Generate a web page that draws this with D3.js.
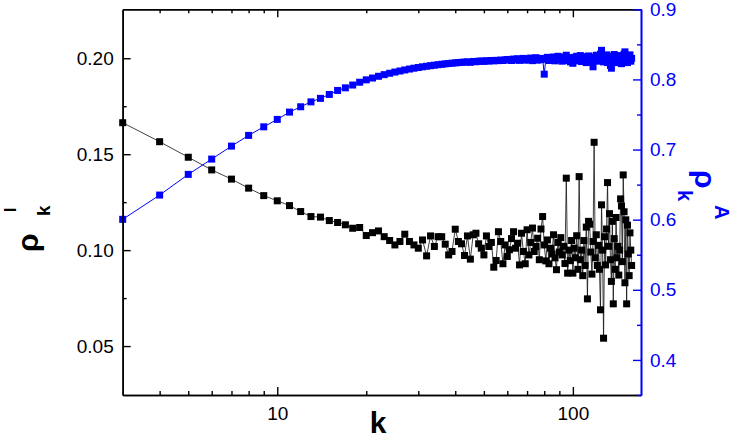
<!DOCTYPE html>
<html><head><meta charset="utf-8">
<script src="https://cdn.jsdelivr.net/npm/d3@7"></script>
<style>body{margin:0;background:#fff}svg{display:block}text{font-family:"Liberation Sans",Arial,sans-serif}</style>
</head><body><svg id="c" width="733" height="442"></svg>
<script>
const kFirst = 3;
const rhoI = [0.1664,0.1565,0.1484,0.1418,0.1370,0.1323,0.1284,0.1257,0.1232,0.1201,0.1175,0.1172,0.1154,0.1144,0.1132,0.1114,0.1118,0.1076,
0.1091,0.1100,0.1070,0.1050,0.1027,0.1045,0.1083,0.1045,0.1027,0.1010,0.1053,0.0970,0.1074,0.1019,0.1070,0.1070,0.1031,0.0975,0.0993,0.1109,0.1045,0.1033,0.0972,0.1074,0.0953,0.1080,0.1088,0.1033,0.1010,0.0975,0.1074,0.1019,
0.1040,0.0911,0.0946,0.1096,0.1045,0.0929,0.1027,0.0967,0.1002,0.1060,0.1096,0.1010,0.1036,0.0923,0.1088,0.0993,0.0929,0.1106,0.0975,0.1040,0.1115,0.0993,0.1019,0.1062,0.0950,0.1110,0.1175,0.1027,0.0944,0.1053,0.0929,0.1010,0.0980,0.1080,0.0960,0.0898,0.1040,0.0990,
0.1065,0.0975,0.1020,0.0930,0.1375,0.0880,0.1000,0.0945,0.1050,0.0880,0.1010,0.0960,0.1075,0.0900,0.1383,0.0950,0.1000,0.0867,0.1050,0.0920,0.1120,0.0746,0.1150,0.1135,0.0990,0.0875,0.1045,0.1562,0.0960,0.1080,0.0920,0.1025,0.0900,0.0689,0.1236,0.1000,0.0541,0.1070,0.0923,0.1110,0.1352,0.1020,0.1190,0.0950,0.0837,0.1150,0.0720,0.1060,0.0900,0.1170,0.0960,0.1020,0.0870,0.1000,0.1267,0.1230,0.0940,0.1392,0.1200,0.0830,0.1158,0.0720,0.1130,0.0980,0.0867,0.1090,0.1000,0.0920];
const rhoA = [0.6005,0.6351,0.6646,0.6864,0.7049,0.7202,0.7324,0.7430,0.7534,0.7610,0.7680,0.7730,0.7786,0.7843,0.7880,0.7920,0.7960,0.7994,
0.8020,0.8045,0.8068,0.8088,0.8105,0.8120,0.8135,0.8148,0.8160,0.8170,0.8180,0.8188,0.8196,0.8203,0.8210,0.8216,0.8222,0.8227,0.8232,0.8236,0.8240,0.8244,0.8247,0.8250,0.8244,0.8256,0.8252,0.8260,0.8262,0.8258,0.8266,0.8262,0.8270,0.8265,0.8272,0.8268,0.8276,0.8270,0.8278,0.8282,
0.8285,0.8270,0.8290,0.8278,0.8295,0.8272,0.8288,0.8300,0.8275,0.8292,0.8280,0.8305,0.8268,0.8290,0.8310,0.8275,0.8295,0.8282,0.8300,0.8075,0.8290,0.8315,0.8270,0.8300,0.8285,0.8320,0.8265,0.8295,0.8330,0.8280,
0.8305,0.8260,0.8320,0.8290,0.8345,0.8270,0.8310,0.8250,0.8300,0.8230,0.8315,0.8285,0.8330,0.8265,0.8300,0.8340,0.8255,0.8310,0.8280,0.8325,0.8240,0.8300,0.8335,0.8270,0.8295,0.8250,0.8180,0.8320,0.8290,0.8345,0.8260,0.8310,0.8280,0.8360,0.8415,0.8300,0.8250,0.8330,0.8275,0.8350,0.8240,0.8310,0.8285,0.8200,0.8160,0.8330,0.8270,0.8355,0.8290,0.8240,0.8320,0.8275,0.8340,0.8260,0.8300,0.8225,0.8330,0.8280,0.8360,0.8393,0.8270,0.8310,0.8240,0.8330,0.8290,0.8350,0.8260,0.8300];
const xMajor = [10, 100];
const xMinor = [4,5,6,7,8,9,20,30,40,50,60,70,80,90];
const yLMajor = [0.05, 0.10, 0.15, 0.20];
const yLMinor = [0.075, 0.125, 0.175];
const yRMajor = [0.4, 0.5, 0.6, 0.7, 0.8, 0.9];
const yRMinor = [0.35, 0.45, 0.55, 0.65, 0.75, 0.85];

const BLUE = "#0000ff";
const L = 122.7, R = 641, T = 9.3, B = 395;
const svg = d3.select("#c");
const x = d3.scaleLog().domain([3, 170]).range([L, R]);
const yL = d3.scaleLinear().domain([0.0245, 0.2255]).range([B, T]);
const yR = d3.scaleLinear().domain([0.35, 0.9]).range([B, T]);

const dI = rhoI.map((v, i) => ({k: kFirst + i, v}));
const dA = rhoA.map((v, i) => ({k: kFirst + i, v}));

svg.append("path").datum(dI).attr("fill", "none").attr("stroke", "#111").attr("stroke-width", 0.8)
  .attr("d", d3.line().x(d => x(d.k)).y(d => yL(d.v)));
svg.append("path").datum(dA).attr("fill", "none").attr("stroke", BLUE).attr("stroke-width", 1)
  .attr("d", d3.line().x(d => x(d.k)).y(d => yR(d.v)));
const S = 7;
svg.append("g").selectAll("rect").data(dI).join("rect")
  .attr("x", d => x(d.k) - S/2).attr("y", d => yL(d.v) - S/2).attr("width", S).attr("height", S).attr("fill", "#000");
svg.append("g").selectAll("rect").data(dA).join("rect")
  .attr("x", d => x(d.k) - S/2).attr("y", d => yR(d.v) - S/2).attr("width", S).attr("height", S).attr("fill", BLUE);

function style(g, color) {
  g.selectAll("path.domain").attr("stroke", color).attr("stroke-width", 1.6);
  g.selectAll(".tick line").attr("stroke", color).attr("stroke-width", 1.4);
  g.selectAll(".tick text").attr("fill", color).attr("font-size", 19).attr("font-family", '"Liberation Sans",Arial,sans-serif');
}
let g = svg.append("g").attr("transform", `translate(0,${B})`)
  .call(d3.axisBottom(x).tickValues(xMajor).tickFormat(d3.format("d")).tickSize(-8).tickSizeOuter(0).tickPadding(12));
style(g, "#000");
g = svg.append("g").attr("transform", `translate(0,${B})`)
  .call(d3.axisBottom(x).tickValues(xMinor).tickFormat("").tickSize(-4).tickSizeOuter(0));
style(g, "#000");
g = svg.append("g").attr("transform", `translate(0,${T})`)
  .call(d3.axisTop(x).tickValues(xMajor).tickFormat("").tickSize(-8).tickSizeOuter(0));
style(g, "#000");
g = svg.append("g").attr("transform", `translate(0,${T})`)
  .call(d3.axisTop(x).tickValues(xMinor).tickFormat("").tickSize(-4).tickSizeOuter(0));
style(g, "#000");
g = svg.append("g").attr("transform", `translate(${L},0)`)
  .call(d3.axisLeft(yL).tickValues(yLMajor).tickFormat(d3.format(".2f")).tickSize(-8).tickSizeOuter(0).tickPadding(9));
style(g, "#000");
g = svg.append("g").attr("transform", `translate(${L},0)`)
  .call(d3.axisLeft(yL).tickValues(yLMinor).tickFormat("").tickSize(-4).tickSizeOuter(0));
style(g, "#000");
g = svg.append("g").attr("transform", `translate(${R},0)`)
  .call(d3.axisRight(yR).tickValues(yRMajor).tickFormat(d3.format(".1f")).tickSize(-8).tickSizeOuter(0).tickPadding(9));
style(g, BLUE);
g = svg.append("g").attr("transform", `translate(${R},0)`)
  .call(d3.axisRight(yR).tickValues(yRMinor).tickFormat("").tickSize(-4).tickSizeOuter(0));
style(g, BLUE);

svg.append("text").attr("x", 378).attr("y", 433).attr("text-anchor", "middle")
  .attr("font-size", 30).attr("font-weight", "bold").text("k");

const lt = svg.append("g").attr("transform", "translate(38,252) rotate(-90)");
lt.append("text").attr("x", 0).attr("y", 0).attr("font-size", 30).attr("font-weight", "bold").text("ρ");
lt.append("text").attr("x", 36).attr("y", 12).attr("font-size", 19).attr("font-weight", "bold").text("k");
lt.append("text").attr("x", 40).attr("y", -22).attr("font-size", 16).attr("font-weight", "bold").text("I");

const rt = svg.append("g").attr("transform", "translate(695,170) rotate(90)");
rt.append("text").attr("x", 0).attr("y", 0).attr("font-size", 30).attr("font-weight", "bold").attr("fill", BLUE).text("ρ");
rt.append("text").attr("x", 20).attr("y", 17).attr("font-size", 20).attr("font-weight", "bold").attr("fill", BLUE).text("k");
rt.append("text").attr("x", 35).attr("y", -20).attr("font-size", 20).attr("font-weight", "bold").attr("fill", BLUE).text("A");
</script></body></html>
